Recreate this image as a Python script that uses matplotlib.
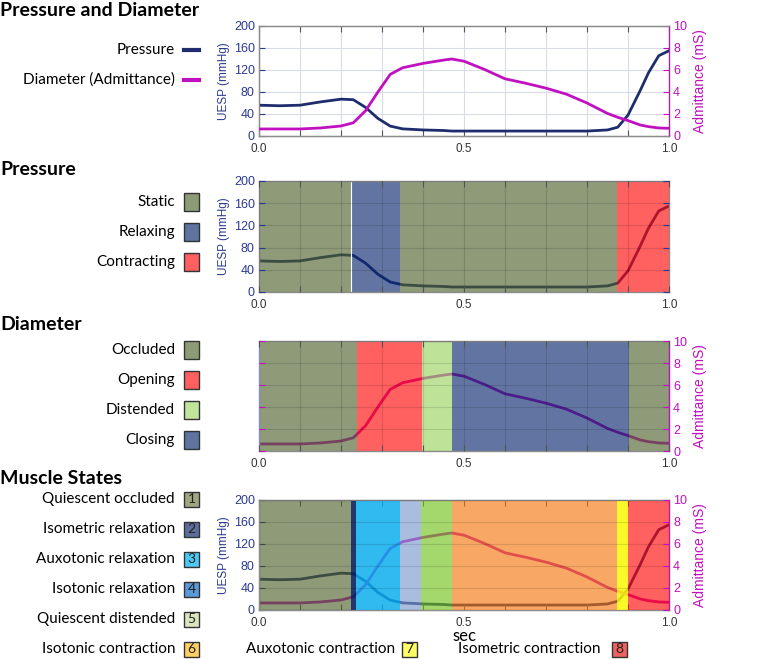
import numpy as np
import matplotlib
matplotlib.use("Agg")
import matplotlib.pyplot as plt
from matplotlib.colors import to_rgb
from matplotlib.patches import Rectangle
from matplotlib.lines import Line2D

# ---------------- data ----------------
time_s = [0.0, 0.05, 0.1, 0.15, 0.2, 0.23, 0.26, 0.29, 0.32, 0.35, 0.4, 0.45, 0.47,
          0.5, 0.55, 0.6, 0.65, 0.7, 0.75, 0.8, 0.85, 0.875, 0.9, 0.93, 0.95, 0.975, 1.0]
pressure_mmhg = [56, 55, 56, 62, 67, 66, 52, 32, 18, 13, 11, 10, 9,
                 9, 9, 9, 9, 9, 9, 9, 11, 16, 38, 83, 115, 146, 155]
admittance_ms = [0.64, 0.64, 0.64, 0.73, 0.91, 1.2, 2.3, 4.0, 5.6, 6.2, 6.6, 6.9, 7.0,
                 6.8, 6.05, 5.2, 4.8, 4.35, 3.8, 3.0, 2.05, 1.7, 1.4, 1.0, 0.85, 0.73, 0.7]

pressure_states = ["Static", "Relaxing", "Static", "Contracting"]
pressure_bounds = [0.0, 0.224, 0.343, 0.874, 1.0]
pressure_legend = ["Static", "Relaxing", "Contracting"]

diameter_states = ["Occluded", "Opening", "Distended", "Closing", "Occluded"]
diameter_bounds = [0.0, 0.238, 0.397, 0.471, 0.902, 1.0]
diameter_legend = ["Occluded", "Opening", "Distended", "Closing"]

muscle_states = [1, 2, 3, 4, 5, 6, 7, 8]
muscle_bounds = [0.0, 0.224, 0.237, 0.344, 0.395, 0.471, 0.873, 0.901, 1.0]
muscle_names = ["Quiescent occluded", "Isometric relaxation", "Auxotonic relaxation",
                "Isotonic relaxation", "Quiescent distended", "Isotonic contraction",
                "Auxotonic contraction", "Isometric contraction"]

x_ticks = [0.0, 0.1, 0.2, 0.3, 0.4, 0.5, 0.6, 0.7, 0.8, 0.9, 1.0]
x_ticklabels = ["0.0", "", "", "", "", "0.5", "", "", "", "", "1.0"]
p_ticks = [0, 40, 80, 120, 160, 200]
a_ticks = [0, 2, 4, 6, 8, 10]

# ---------------- style ----------------
NAVY = "#1f2d6e"
MAG = "#c010c0"
TICKNAVY = "#2b3a8f"
SPINE = "#8c8c8c"
LEG_FONT = "Lato"
TICK_FONT = "Liberation Sans"
LEG_SIZE = 11

band_obs = {
    "Static": "#8f9b78", "Relaxing": "#6275a2", "Contracting": "#ff6060",
    "Occluded": "#8f9b78", "Opening": "#ff6060", "Distended": "#bee398", "Closing": "#6275a2",
    1: "#8f9b78", 2: "#1e386e", 3: "#30baf0", 4: "#aabede", 5: "#a5d76c",
    6: "#f8a864", 7: "#faf828", 8: "#ff6060",
}
box_col = {
    "Static": "#8e9b77", "Relaxing": "#5e73a0", "Contracting": "#ff5f5f",
    "Occluded": "#8e9b77", "Opening": "#ff5f5f", "Distended": "#c0e59a", "Closing": "#5e73a0",
    1: "#a0a682", 2: "#5e6d9a", 3: "#4cc8f5", 4: "#5a9ad6", 5: "#dae5bf",
    6: "#ffd165", 7: "#ffff66", 8: "#ee6262",
}


def band_rgba(hex_obs, a_min=0.63):
    c = np.array(to_rgb(hex_obs))
    a = max(a_min, 1 - c.min() + 0.02)
    base = np.clip((c - (1 - a)) / a, 0, 1)
    return (*base, min(a, 1.0))


W, H = 760, 659
fig = plt.figure(figsize=(W / 100, H / 100), dpi=100)


def fx(x):
    return x / W


def fy(y):
    return 1 - y / H


AX_L, AX_R = 259, 669


def make_ax(top, bottom):
    return fig.add_axes([fx(AX_L), fy(bottom), fx(AX_R - AX_L), (bottom - top) / H])


def style_x(ax, pad=5):
    ax.set_xlim(0, 1)
    ax.set_xticks(x_ticks)
    ax.set_xticklabels(x_ticklabels, fontsize=8.5, color="#333333", family=TICK_FONT)
    ax.tick_params(axis="x", direction="in", length=4, top=True, color="#555555", pad=pad)
    for s in ax.spines.values():
        s.set_color(SPINE)
        s.set_linewidth(1)


def style_left(ax, label=True):
    ax.set_ylim(0, 200)
    ax.set_yticks(p_ticks)
    ax.set_yticklabels([str(t) for t in p_ticks], fontsize=9, color=TICKNAVY, family=TICK_FONT)
    ax.tick_params(axis="y", direction="in", length=4, color=TICKNAVY, pad=3)
    if label:
        ax.set_ylabel("UESP (mmHg)", fontsize=8.5, color=TICKNAVY, family=TICK_FONT, labelpad=3)


def style_right(ax):
    ax.set_ylim(0, 10)
    ax.set_yticks(a_ticks)
    ax.set_yticklabels([str(t) for t in a_ticks], fontsize=9, color=MAG, family=TICK_FONT)
    ax.tick_params(axis="y", direction="in", length=4, color=MAG, pad=3)
    ax.set_ylabel("Admittance (mS)", fontsize=10, color=MAG, family=TICK_FONT, labelpad=4)
    ax.spines["right"].set_color(MAG)


def bands(ax, states, bounds):
    for st, x0, x1 in zip(states, bounds[:-1], bounds[1:]):
        ax.axvspan(x0, x1, color=band_rgba(band_obs[st]), lw=0, zorder=2)


def grid_top(ax):
    ax.set_axisbelow(False)
    ax.grid(True, color="black", alpha=0.12, lw=0.8)


# ---------- panel 1 ----------
ax1 = make_ax(26, 136)
ax1.plot(time_s, pressure_mmhg, color=NAVY, lw=2, zorder=3)
style_x(ax1)
style_left(ax1)
ax1.grid(True, color="#d9dce6", lw=0.8)
ax1b = ax1.twinx()
ax1b.plot(time_s, admittance_ms, color=MAG, lw=2, zorder=3)
style_right(ax1b)
for s in ax1b.spines.values():
    s.set_color(SPINE)
ax1b.spines["right"].set_color(MAG)

# ---------- panel 2 ----------
ax2 = make_ax(181, 292)
ax2.plot(time_s, pressure_mmhg, color=NAVY, lw=2, zorder=1)
bands(ax2, pressure_states, pressure_bounds)
ax2.axvline(pressure_bounds[1], color="white", lw=0.8, zorder=2.2)
style_x(ax2)
style_left(ax2)
grid_top(ax2)
ax2.tick_params(axis="y", right=True)

# ---------- panel 3 ----------
ax3 = make_ax(341, 451)
ax3.plot(time_s, admittance_ms, color=MAG, lw=2, zorder=1)
bands(ax3, diameter_states, diameter_bounds)
style_x(ax3)
ax3.yaxis.tick_right()
ax3.yaxis.set_label_position("right")
style_right(ax3)
ax3.tick_params(axis="y", left=True, right=True)
ax3.spines["left"].set_color("#8fa0e0")
ax3.spines["right"].set_color(MAG)
grid_top(ax3)

# ---------- panel 4 ----------
ax4 = make_ax(500, 610)
ax4.plot(time_s, pressure_mmhg, color=NAVY, lw=2, zorder=1)
style_x(ax4, pad=5)
style_left(ax4)
ax4b = ax4.twinx()
ax4b.plot(time_s, admittance_ms, color=MAG, lw=2, zorder=1)
bands(ax4b, muscle_states, muscle_bounds)
style_right(ax4b)
for s in ax4b.spines.values():
    s.set_color(SPINE)
ax4b.spines["right"].set_color(MAG)
ax4b.set_xticks(x_ticks)
grid_top(ax4b)
fig.text(fx(464), fy(636), "sec", fontsize=12, family=LEG_FONT, ha="center", va="center")

# ---------- titles ----------
for txt, y in [("Pressure and Diameter", 10), ("Pressure", 170), ("Diameter", 325), ("Muscle States", 478)]:
    fig.text(fx(0), fy(y), txt, fontsize=14, fontweight="bold", family=LEG_FONT,
             ha="left", va="center")

# ---------- left legends ----------
TXT_R = 175
BOX_X, BOX_W, BOX_H = 184, 15, 16

# panel 1 lines
for lab, col, y in [("Pressure", NAVY, 50), ("Diameter (Admittance)", MAG, 80)]:
    fig.text(fx(TXT_R), fy(y), lab, fontsize=LEG_SIZE, family=LEG_FONT, ha="right", va="center")
    fig.add_artist(Line2D([fx(184), fx(199)], [fy(y), fy(y)], color=col, lw=3,
                          transform=fig.transFigure))


def legend_box(x, y, col, label=None, w=BOX_W, h=BOX_H):
    fig.add_artist(Rectangle((fx(x), fy(y + h / 2)), w / W, h / H, facecolor=col,
                             edgecolor="#333333", lw=1, transform=fig.transFigure))
    if label is not None:
        fig.text(fx(x + w / 2), fy(y), label, fontsize=10, family=LEG_FONT,
                 ha="center", va="center", color="#222222")


for lab, y in zip(pressure_legend, [202, 232, 262]):
    fig.text(fx(TXT_R), fy(y), lab, fontsize=LEG_SIZE, family=LEG_FONT, ha="right", va="center")
    legend_box(BOX_X, y, box_col[lab], h=18)

for lab, y in zip(diameter_legend, [350, 380, 410, 440]):
    fig.text(fx(TXT_R), fy(y), lab, fontsize=LEG_SIZE, family=LEG_FONT, ha="right", va="center")
    legend_box(BOX_X, y, box_col[lab], h=18)

for st, name, y in zip(muscle_states[:6], muscle_names[:6], [499, 529, 559, 589, 619, 649]):
    fig.text(fx(TXT_R), fy(y), name, fontsize=LEG_SIZE, family=LEG_FONT, ha="right", va="center")
    legend_box(BOX_X, y, box_col[st], str(st), h=15)

for st, name, tx, bx in [(7, muscle_names[6], 246, 402), (8, muscle_names[7], 458, 612)]:
    fig.text(fx(tx), fy(649), name, fontsize=LEG_SIZE, family=LEG_FONT, ha="left", va="center")
    legend_box(bx, 649, box_col[st], str(st), h=15)

fig.savefig("out.png", dpi=100)
